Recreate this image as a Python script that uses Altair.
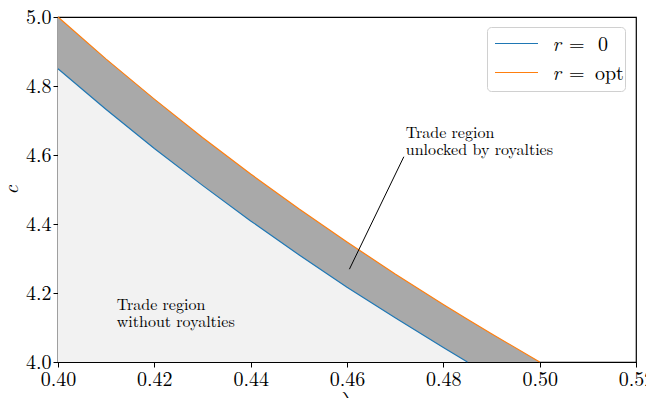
import altair as alt
import pandas as pd

# curve values
lam = [0.40, 0.41, 0.42, 0.43, 0.44, 0.45, 0.46, 0.47, 0.48, 0.485, 0.49, 0.50]
c_opt = [5.000, 4.878, 4.762, 4.651, 4.545, 4.444, 4.348, 4.255, 4.167, 4.124, 4.082, 4.000]
c_zero = [4.850, 4.732, 4.619, 4.512, 4.409, 4.311, 4.217, 4.128, 4.042, 4.000]
c_floor = 4.0

# annotation texts (lambda, c baseline)
ann_text = ["Trade region", "without royalties", "Trade region", "unlocked by royalties"]
ann_lam = [0.4122, 0.4122, 0.4722, 0.4722]
ann_c = [4.151, 4.102, 4.649, 4.600]

# annotation pointer line
arrow_lam = [0.4718, 0.4605]
arrow_c = [4.595, 4.269]

x_ticks = [0.40, 0.42, 0.44, 0.46, 0.48, 0.50, 0.52]
y_ticks = [4.0, 4.2, 4.4, 4.6, 4.8, 5.0]

FONT = "Latin Modern Roman"
MATH = "Latin Modern Math"

n0 = len(c_zero)
band_low = c_zero + [c_floor] * (len(lam) - n0)
df = pd.DataFrame({"lam": lam, "opt": c_opt, "low": band_low})
df0 = pd.DataFrame({"lam": lam[:n0], "zero": c_zero, "base": [c_floor] * n0})
df_ann = pd.DataFrame({"t": ann_text, "lam": ann_lam, "c": ann_c})
df_arrow = pd.DataFrame({"lam": [arrow_lam[0]], "c": [arrow_c[0]],
                         "lam2": [arrow_lam[1]], "c2": [arrow_c[1]]})

xs = alt.Scale(domain=[0.40, 0.52], nice=False, zero=False)
ys = alt.Scale(domain=[4.0, 5.0], nice=False, zero=False)

xax = alt.Axis(values=x_ticks, format=".2f", title="λ", grid=False,
               labelFlush=False, labelOverlap=False, titleFont=MATH)
yax = alt.Axis(values=y_ticks, format=".1f", title="c", grid=False,
               titleFontStyle="italic", labelFlush=False, labelOverlap=False)

light = alt.Chart(df0).mark_area(color="#f2f2f2", opacity=1).encode(
    x=alt.X("lam:Q", scale=xs, axis=xax),
    y=alt.Y("zero:Q", scale=ys, axis=yax),
    y2="base:Q",
)
dark = alt.Chart(df).mark_area(color="#a9a9a9", opacity=1).encode(
    x=alt.X("lam:Q", scale=xs),
    y=alt.Y("opt:Q", scale=ys),
    y2="low:Q",
)
line0 = alt.Chart(df0).mark_line(color="#1f77b4", strokeWidth=1.2).encode(
    x=alt.X("lam:Q", scale=xs), y=alt.Y("zero:Q", scale=ys))
line1 = alt.Chart(df).mark_line(color="#ff7f0e", strokeWidth=1.2).encode(
    x=alt.X("lam:Q", scale=xs), y=alt.Y("opt:Q", scale=ys))

arrow = alt.Chart(df_arrow).mark_rule(color="black", strokeWidth=1).encode(
    x=alt.X("lam:Q", scale=xs), y=alt.Y("c:Q", scale=ys),
    x2="lam2:Q", y2="c2:Q")

ann = alt.Chart(df_ann).mark_text(font=FONT, fontSize=16, align="left",
                                  baseline="alphabetic", color="black").encode(
    x=alt.X("lam:Q", scale=xs), y=alt.Y("c:Q", scale=ys), text="t:N")

# legend
leg_box = alt.Chart(pd.DataFrame({"a": [0]})).mark_rect(
    fill="white", stroke="#cccccc", strokeWidth=1, cornerRadius=4, opacity=0.9
).encode(x=alt.value(429.5), x2=alt.value(567.5), y=alt.value(10.5), y2=alt.value(74.5))
leg_l1 = alt.Chart(pd.DataFrame({"a": [0]})).mark_rule(color="#1f77b4", strokeWidth=1.2).encode(
    x=alt.value(437), x2=alt.value(480), y=alt.value(26.5))
leg_l2 = alt.Chart(pd.DataFrame({"a": [0]})).mark_rule(color="#ff7f0e", strokeWidth=1.2).encode(
    x=alt.value(437), x2=alt.value(480), y=alt.value(55.5))

def ltext(txt, x, y, style="normal"):
    return alt.Chart(pd.DataFrame({"a": [0]})).mark_text(
        text=txt, font=FONT, fontSize=20, fontStyle=style, align="left",
        baseline="alphabetic", color="black").encode(x=alt.value(x), y=alt.value(y))

legend = [leg_box, leg_l1, leg_l2,
          ltext("r", 494.5, 34, "italic"), ltext("=", 511, 34), ltext("0", 540, 34),
          ltext("r", 494.5, 63, "italic"), ltext("=", 511, 63), ltext("opt", 537, 63)]

chart = alt.layer(light, dark, line0, line1, arrow, ann, *legend).properties(
    width=578, height=345,
    autosize=alt.AutoSizeParams(type="none"),
    padding={"left": 50, "top": 9, "right": 10, "bottom": 36},
).configure_view(stroke="black", strokeWidth=1.2).configure_axis(
    labelFont=FONT, labelFontSize=20, labelColor="black",
    titleFont=FONT, titleFontSize=20, titleColor="black", titleFontWeight="normal",
    tickColor="black", tickSize=5, tickWidth=1, labelPadding=2,
    domainColor="black", domainWidth=1.2,
).configure_axisY(titlePadding=4).configure_axisX(titlePadding=0)

chart.save("out.html", embed_options={"renderer": "svg", "actions": False})
